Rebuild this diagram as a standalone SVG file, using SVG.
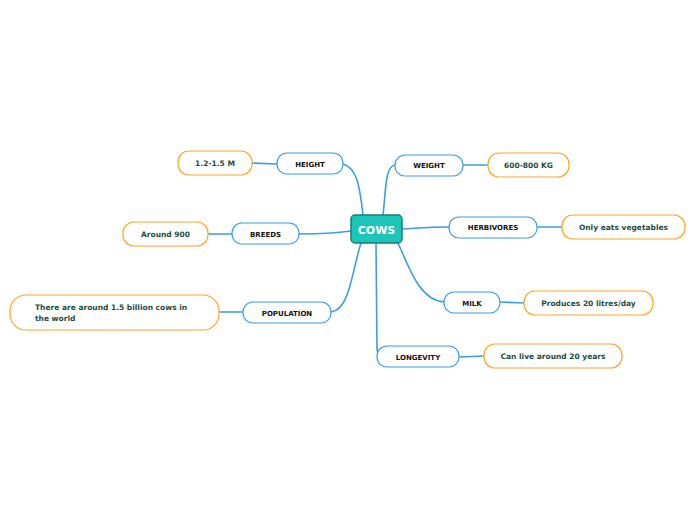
<svg xmlns="http://www.w3.org/2000/svg" width="696" height="520" viewBox="0 0 696 520">
<style>
.main rect{fill:#fff;stroke:#3a9ee4;stroke-width:1.2}
.sub rect{fill:#fff;stroke:#f9a825;stroke-width:1.2}
.main text{font-family:"DejaVu Sans",Verdana,sans-serif;font-weight:bold;font-size:7px;fill:#111;text-anchor:middle}
.sub text{font-family:"DejaVu Sans",Verdana,sans-serif;font-weight:bold;font-size:7.5px;fill:#1b4d3e;text-anchor:middle}
.sub text.left{text-anchor:start}
.c path{fill:none;stroke:#3a9ee4;stroke-width:1.6;stroke-linecap:round}
</style>
<rect width="696" height="520" fill="#fff"/>
<g class="c" id="connectors">
<path d="M363,215 C360,190 358,168 343,164"/>
<path d="M383,215 C386,190 385,166 395,165"/>
<path d="M402,229 C420,228 430,227 449,227"/>
<path d="M398,243 C410,270 420,300 444,302"/>
<path d="M376,243 L377,348 C377,354 379,357 385,357"/>
<path d="M361,243 C352,270 350,310 331,312"/>
<path d="M351,231 C330,234 315,234 299,234"/>
<path d="M277,164 L252,163"/>
<path d="M463,165 L488,165"/>
<path d="M537,227 L562,227"/>
<path d="M232,234 L208,234"/>
<path d="M243,312 L219,312"/>
<path d="M500,302 L524,303"/>
<path d="M459,357 L484,356"/>
</g>
<g id="cows">
<rect x="351" y="215" width="51" height="28" rx="4" fill="#1cc5b8" stroke="#177e77" stroke-width="1.5"/>
<text x="376.5" y="233.5" font-family="DejaVu Sans,Verdana,sans-serif" font-weight="bold" font-size="11" fill="#fff" text-anchor="middle">COWS</text>
</g>
<g class="main" id="height"><rect x="277" y="153" width="66" height="21" rx="10"/><text x="310" y="166.5">HEIGHT</text></g>
<g class="main" id="weight"><rect x="395" y="155" width="68" height="21" rx="10"/><text x="429" y="168">WEIGHT</text></g>
<g class="main" id="herbivores"><rect x="449" y="217" width="88" height="21" rx="10"/><text x="493" y="230">HERBIVORES</text></g>
<g class="main" id="breeds"><rect x="232" y="223" width="67" height="21" rx="10"/><text x="265.5" y="236.5">BREEDS</text></g>
<g class="main" id="population"><rect x="243" y="302" width="88" height="21" rx="10"/><text x="287" y="315.5">POPULATION</text></g>
<g class="main" id="milk"><rect x="444" y="292" width="56" height="21" rx="10"/><text x="472" y="305.5">MILK</text></g>
<g class="main" id="longevity"><rect x="377" y="346" width="82" height="21" rx="10"/><text x="418" y="359.5">LONGEVITY</text></g>
<g class="sub" id="height-val"><rect x="178" y="151" width="74" height="24" rx="11"/><text x="215" y="166">1.2-1.5 M</text></g>
<g class="sub" id="weight-val"><rect x="488" y="153" width="81" height="24" rx="11"/><text x="528.5" y="168">600-800 KG</text></g>
<g class="sub" id="herbivores-val"><rect x="562" y="215" width="123" height="24" rx="11"/><text x="623.5" y="230">Only eats vegetables</text></g>
<g class="sub" id="breeds-val"><rect x="123" y="222" width="85" height="24" rx="11"/><text x="165.5" y="237">Around 900</text></g>
<g class="sub" id="population-val"><rect x="10" y="295" width="209" height="35" rx="16"/><text class="left" x="35" y="310">There are around 1.5 billion cows in</text><text class="left" x="35" y="321">the world</text></g>
<g class="sub" id="milk-val"><rect x="524" y="291" width="129" height="24" rx="11"/><text x="588.5" y="306">Produces 20 litres/day</text></g>
<g class="sub" id="longevity-val"><rect x="484" y="344" width="138" height="24" rx="11"/><text x="553" y="359">Can live around 20 years</text></g>
</svg>
